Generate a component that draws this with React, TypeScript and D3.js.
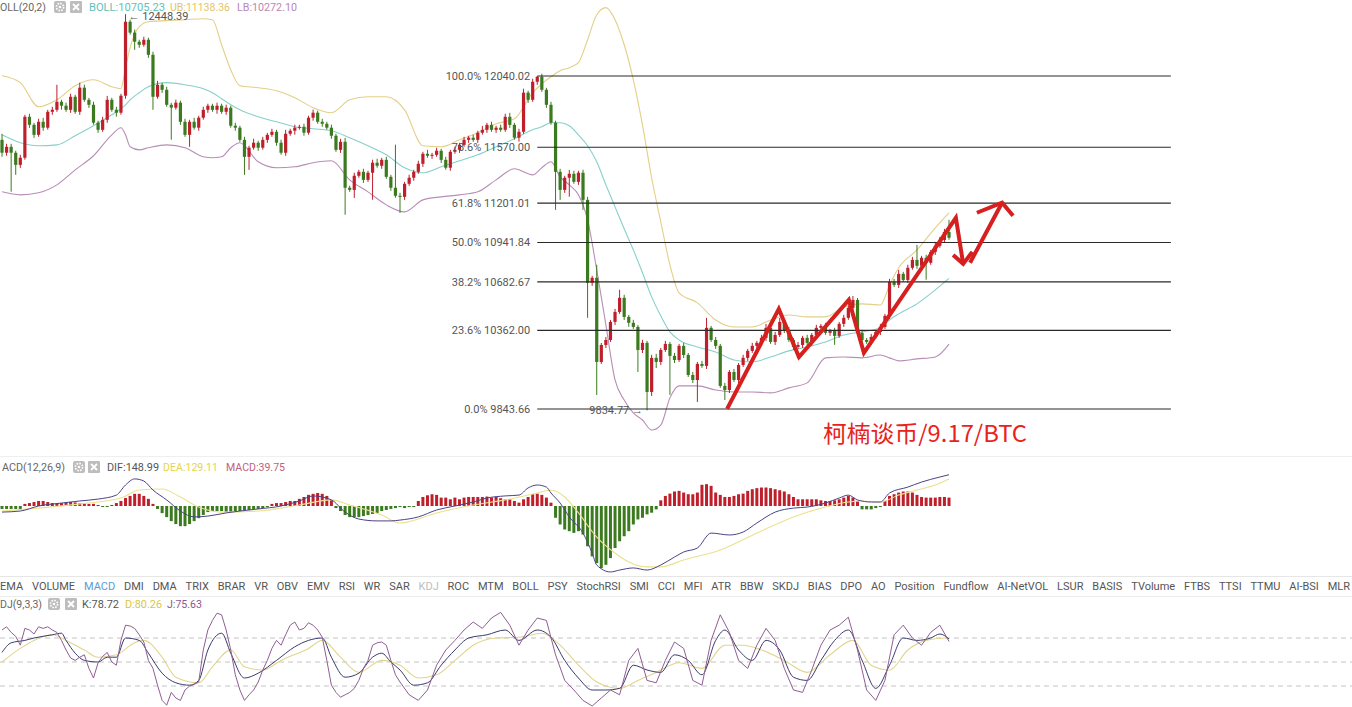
import React, { useMemo } from "react";
import * as d3 from "d3";

// ---------------- DATA ----------------
const firstOpen = 11619;
const closes = [
  11534, 11573, 11534, 11454, 11501, 11771, 11718, 11652, 11738, 11699,
  11804, 11817, 11870, 11844, 11817, 11903, 11804, 11963, 11883, 11850,
  11732, 11685, 11751, 11883, 11817, 11798, 11910, 12398, 12326, 12266,
  12246, 12279, 12180, 11903, 11982, 11949, 11850, 11831, 11864, 11738,
  11652, 11738, 11699, 11765, 11817, 11844, 11817, 11844, 11804, 11831,
  11712, 11699, 11619, 11507, 11567, 11600, 11567, 11619, 11652, 11672,
  11600, 11534, 11659, 11679, 11699, 11705, 11666, 11765, 11798, 11738,
  11725, 11699, 11646, 11553, 11606, 11303, 11289, 11382, 11408, 11355,
  11402, 11468, 11448, 11487, 11375, 11303, 11250, 11243, 11329, 11369,
  11408, 11461, 11527, 11514, 11520, 11547, 11487, 11435, 11540, 11553,
  11586, 11619, 11633, 11619, 11666, 11685, 11718, 11685, 11699, 11685,
  11771, 11718, 11633, 11672, 11930, 11883, 12002, 12035, 11949, 11850,
  11732, 11408, 11289, 11369, 11395, 11342, 11402, 11223, 10676, 10709,
  10154, 10266, 10299, 10418, 10484, 10577, 10451, 10412, 10385, 10233,
  10280, 9956, 10181, 10154, 10233, 10273, 10194, 10167, 10260, 10200,
  10068, 10035, 10141, 10128, 10379, 10299, 10260, 9996, 9969, 10088,
  10035, 10134, 10181, 10227, 10260, 10280, 10313, 10379, 10286, 10332,
  10418, 10365, 10299, 10253, 10266, 10313, 10280, 10332, 10379, 10392,
  10346, 10359, 10326, 10405, 10445, 10511, 10563, 10346, 10299, 10286,
  10319, 10352, 10385, 10458, 10682, 10662, 10735, 10695, 10775, 10827,
  10788, 10841, 10808, 10880, 10920, 10959, 11012, 10973,
];
const wickHi = [
  40, 20, 20, 13, 20, 13, 20, 13, 20, 26,
  13, 20, 112, 13, 20, 20, 13, 33, 20, 13,
  20, 13, 20, 26, 13, 20, 13, 50, 13, 20,
  13, 20, 13, 20, 26, 13, 20, 13, 20, 13,
  20, 13, 26, 13, 20, 13, 13, 20, 13, 20,
  13, 20, 13, 20, 13, 26, 13, 20, 13, 20,
  13, 20, 26, 13, 20, 13, 20, 13, 20, 13,
  20, 13, 20, 13, 20, 26, 13, 20, 13, 20,
  13, 20, 26, 13, 20, 13, 284, 20, 13, 20,
  13, 20, 13, 26, 13, 20, 13, 20, 13, 20,
  13, 20, 13, 20, 13, 26, 13, 20, 13, 20,
  20, 26, 13, 20, 26, 13, 20, 5, 20, 13,
  20, 13, 20, 13, 26, 20, 13, 20, 20, 13,
  86, 13, 20, 13, 20, 53, 20, 13, 20, 13,
  20, 13, 20, 26, 13, 20, 13, 20, 13, 20,
  13, 20, 13, 20, 66, 13, 20, 13, 20, 13,
  20, 13, 20, 13, 20, 13, 20, 26, 13, 20,
  26, 13, 20, 13, 20, 13, 20, 13, 20, 13,
  20, 13, 20, 13, 20, 13, 26, 13, 20, 13,
  20, 13, 20, 13, 20, 20, 26, 13, 20, 20,
  99, 13, 20, 13, 26, 20, 20, 79,
];
const wickLo = [
  26, 20, 257, 66, 20, 13, 20, 20, 13, 20,
  13, 20, 13, 26, 13, 20, 13, 20, 13, 20,
  13, 20, 13, 20, 13, 26, 13, 20, 13, 53,
  20, 13, 20, 86, 13, 20, 13, 211, 13, 20,
  13, 79, 13, 20, 13, 20, 13, 26, 13, 20,
  13, 20, 13, 119, 86, 13, 20, 13, 20, 13,
  20, 13, 20, 13, 26, 13, 20, 13, 20, 13,
  20, 13, 20, 13, 20, 178, 13, 53, 13, 20,
  13, 178, 13, 20, 13, 20, 13, 106, 20, 13,
  20, 13, 20, 13, 20, 13, 20, 13, 20, 13,
  20, 13, 20, 13, 20, 13, 20, 13, 20, 13,
  13, 20, 13, 26, 13, 20, 13, 20, 13, 20,
  13, 251, 66, 20, 125, 13, 20, 66, 231, 20,
  218, 13, 20, 13, 20, 13, 20, 26, 13, 145,
  20, 121, 26, 40, 20, 13, 257, 20, 13, 20,
  13, 20, 145, 13, 20, 13, 20, 13, 66, 20,
  13, 20, 13, 20, 13, 20, 13, 20, 13, 20,
  13, 20, 13, 20, 13, 20, 13, 20, 13, 20,
  13, 20, 59, 13, 20, 13, 20, 13, 20, 13,
  20, 13, 20, 13, 20, 13, 20, 13, 20, 13,
  20, 13, 112, 13, 20, 13, 20, 13,
];

const bandIdx = [0, 4, 8, 12, 16, 20, 24, 26, 27, 28, 30, 32, 36, 40, 44, 46, 48, 50, 52, 56, 60, 64, 68, 72, 76, 80, 84, 88, 92, 96, 100, 104, 108, 112, 116, 118, 120, 122, 124, 126, 128, 130, 132, 134, 136, 138, 140, 142, 144, 146, 148, 152, 156, 160, 164, 168, 172, 176, 180, 184, 188, 192, 194, 196, 200, 204, 207];
const ubVals = [12042, 11996, 11837, 11883, 11976, 12015, 11969, 11956, 12095, 12227, 12365, 12398, 12405, 12411, 12418, 12411, 12246, 12081, 11976, 11963, 11943, 11897, 11831, 11798, 11883, 11903, 11903, 11817, 11580, 11573, 11619, 11666, 11725, 11758, 11930, 11989, 12035, 12075, 12095, 12128, 12279, 12444, 12491, 12411, 12246, 12015, 11718, 11369, 11078, 10794, 10610, 10544, 10431, 10385, 10385, 10431, 10464, 10451, 10451, 10517, 10537, 10530, 10662, 10775, 10893, 11039, 11138];
const midVals = [11652, 11600, 11580, 11586, 11646, 11712, 11784, 11824, 11850, 11883, 11930, 11969, 11996, 11982, 11956, 11930, 11890, 11850, 11817, 11771, 11738, 11705, 11692, 11679, 11633, 11580, 11520, 11435, 11402, 11441, 11481, 11520, 11573, 11626, 11685, 11705, 11732, 11732, 11712, 11652, 11580, 11474, 11322, 11177, 11032, 10893, 10742, 10583, 10458, 10352, 10299, 10253, 10220, 10167, 10154, 10187, 10227, 10253, 10286, 10332, 10352, 10379, 10431, 10471, 10537, 10629, 10705];
const lbVals = [11276, 11256, 11270, 11322, 11421, 11514, 11652, 11699, 11652, 11573, 11553, 11567, 11586, 11567, 11507, 11501, 11507, 11567, 11600, 11474, 11435, 11441, 11468, 11481, 11355, 11276, 11190, 11144, 11223, 11243, 11256, 11276, 11355, 11428, 11388, 11435, 11474, 11375, 11322, 11256, 11091, 10761, 10398, 10035, 9903, 9818, 9771, 9705, 9738, 9917, 9996, 9996, 9969, 9956, 9956, 9950, 9983, 10016, 10181, 10187, 10181, 10200, 10181, 10161, 10174, 10187, 10272];

const fibLabels = ["100.0%", "78.6%", "61.8%", "50.0%", "38.2%", "23.6%", "0.0%"];
const fibValues = [12040.02, 11570.0, 11201.01, 10941.84, 10682.67, 10362.0, 9843.66];
const fibSpanIdx = [117, 255.5];

const macdHist = [
  -14, -14, -14, -14, -14,
  10, 14, 19, 24, 24, 19, 14, 14,
  14, 17, 19, 17, 14,
  14, 10, 10, 5, -5, -5, 5,
  14, 24, 38, 48, 58, 58, 48, 34,
  10,
  -14, -34, -53, -72, -86, -96, -96, -86, -72, -58, -43, -29, -24,
  -24, -24, -29, -29, -24, -24, -19, -19, -14, -14, -10, -5,
  10, 14, 14, 19, 24, 24,
  34, 43, 53, 58, 62, 58, 48, 29,
  -10, -24, -43, -53, -53, -53, -48, -43, -38, -34, -24, -19, -14, -10,
  -5, -10, -5, -5,
  24, 43, 51, 56, 53, 40, 40, 32, 40, 32, 40, 43, 43, 43, 43, 45, 40, 43, 37, 32, 32, 24, 16, 32, 43, 56, 59, 53, 40, 16,
  -56, -88, -112, -120, -128, -120, -136, -192, -240, -272, -296, -280, -248, -200, -168, -144, -120, -88, -64, -56, -40, -32, -16,
  27, 48, 59, 69, 72, 64, 56, 56, 64, 101, 104, 96, 64, 53, 43, 43, 48, 56, 59, 72, 80, 85, 88, 88, 85, 80, 75, 69, 56, 43, 32, 32, 32, 32, 32, 27, 24, 24, 27, 32, 40, 48, 40, 24,
  -16, -16, -16, -10, -5,
  24, 48, 56, 64, 69, 69, 64, 53, 43, 40, 40, 40, 43, 43, 40,
];
const difIdx = [0, 4, 8, 13, 17, 21, 25, 27, 29, 31, 33, 36, 39, 42, 45, 49, 52, 56, 61, 65, 68, 72, 75, 78, 82, 85, 87, 91, 95, 99, 103, 106, 110, 113, 115, 117, 119, 120, 122, 124, 127, 129, 130, 133, 135, 138, 141, 144, 147, 149, 152, 155, 159, 162, 165, 169, 173, 176, 180, 183, 185, 187, 190, 192, 194, 198, 201, 205, 207];
const difVals = [-29, -24, 0, 14, 24, 33, 52, 100, 129, 119, 76, 29, -24, -52, -48, -33, -24, -14, 0, 24, 48, 29, -29, -62, -71, -71, -67, -52, -19, 0, 19, 38, 48, 52, 86, 100, 90, 62, 14, -52, -129, -224, -281, -314, -305, -295, -305, -281, -243, -219, -200, -129, -138, -124, -81, -29, -10, -5, 14, 38, 52, 29, 19, 19, 62, 90, 114, 138, 148.99];
const deaIdx = [0, 8, 17, 26, 30, 35, 39, 43, 48, 56, 65, 72, 76, 83, 87, 95, 103, 110, 117, 120, 123, 126, 130, 134, 137, 141, 144, 149, 157, 165, 173, 180, 185, 188, 192, 196, 200, 204, 207];
const deaVals = [-24, -10, 10, 38, 76, 81, 43, -5, -29, -24, 5, 29, 5, -43, -81, -33, 5, 29, 62, 76, 43, -33, -148, -224, -267, -290, -290, -257, -210, -129, -52, -5, 19, 24, 19, 52, 76, 100, 129.11];

const jIdx = d3.range(0, 88).concat(d3.range(89, 208, 2));
const jVals = [
  90, 94, 87, 82, 71, 92, 90, 85, 94, 92,
  94, 90, 87, 77, 65, 55, 52, 56, 59, 42,
  30, 49, 57, 62, 50, 46, 77, 96, 95, 92,
  84, 75, 52, 42, 21, 2, -4, 12, 5, 2,
  15, 20, 22, 25, 65, 90, 102, 111, 109, 90,
  65, 34, 15, 2, 9, 15, 25, 40, 52, 67,
  77, 71, 84, 96, 100, 90, 92, 99, 96, 90,
  81, 52, 21, 12, 6, 9, 12, 17, 27, 42,
  52, 71, 74, 75, 71, 52, 34, 25,
  9, 2, 15, 46, 65, 77, 90, 100, 92, 105,
  112, 96, 71, 90, 105, 102, 59, 27, 15, 2,
  -5, 5, 15, 9, 52, 67, 27, 24, 52, 75,
  67, 27, 21, 77, 109, 87, 52, 42, 71, 92,
  77, 42, 15, 12, 40, 71, 90, 96, 106, 65,
  15, 2, 27, 84, 96, 80, 71, 87, 96, 75.63,
];
const kIdx = [0, 2, 5, 7, 11, 13, 14, 16, 18, 21, 23, 25, 27, 30, 32, 35, 38, 41, 43, 45, 48, 50, 53, 56, 60, 64, 67, 70, 72, 75, 78, 81, 83, 85, 87, 90, 93, 96, 99, 102, 106, 110, 113, 117, 120, 123, 126, 129, 132, 135, 138, 141, 144, 147, 150, 153, 156, 158, 161, 164, 167, 170, 173, 176, 179, 182, 185, 188, 191, 194, 197, 200, 203, 205, 207];
const kVals = [62, 74, 77, 80, 84, 86, 77, 61, 52, 50, 56, 56, 80, 77, 61, 36, 24, 21, 27, 65, 86, 61, 30, 36, 52, 69, 77, 80, 56, 31, 36, 56, 61, 50, 40, 21, 24, 46, 65, 80, 84, 90, 77, 90, 81, 52, 30, 15, 15, 17, 46, 40, 37, 59, 52, 34, 77, 90, 65, 52, 77, 65, 31, 27, 52, 77, 90, 52, 17, 46, 80, 77, 80, 85, 78.72];
const dIdx = [0, 4, 7, 11, 14, 18, 21, 25, 29, 31, 35, 38, 43, 46, 50, 53, 57, 61, 67, 70, 74, 78, 83, 87, 91, 95, 99, 103, 108, 113, 118, 122, 126, 130, 135, 139, 143, 148, 153, 158, 162, 166, 171, 176, 181, 186, 190, 194, 198, 202, 207];
const dVals = [50, 67, 77, 84, 77, 65, 56, 59, 74, 77, 56, 31, 24, 44, 65, 44, 40, 52, 67, 77, 56, 37, 52, 46, 30, 34, 52, 71, 80, 81, 86, 71, 46, 25, 17, 27, 37, 49, 42, 71, 71, 65, 52, 37, 59, 77, 46, 40, 65, 77, 80.26];

const tabLabels = ["EMA", "VOLUME", "MACD", "DMI", "DMA", "TRIX", "BRAR", "VR", "OBV", "EMV", "RSI", "WR", "SAR", "KDJ", "ROC", "MTM", "BOLL", "PSY", "StochRSI", "SMI", "CCI", "MFI", "ATR", "BBW", "SKDJ", "BIAS", "DPO", "AO", "Position", "Fundflow", "AI-NetVOL", "LSUR", "BASIS", "TVolume", "FTBS", "TTSI", "TTMU", "AI-BSI", "MLR"];

// hand-drawn annotation (candle index, price)
const zigIdx = [158.5, 169.8, 174.2, 185.1, 188.4, 208.5, 210.1];
const zigVals = [9844, 10504, 10187, 10563, 10214, 11105, 10801];
const head1Idx = [207.9, 210.1, 212.1];
const head1Vals = [10860, 10801, 10880];
const arrow2Idx = [211.6, 218.6];
const arrow2Vals = [10808, 11204];
const head2Idx = [213.1, 218.6, 221.0];
const head2Vals = [11138, 11204, 11118];

// ---------------- CHART ----------------
const FONT = "Roboto, 'Noto Sans', Arial, sans-serif";
const UP = "#bf1f2b";
const DOWN = "#3b7a1e";

function Icons({ x, y, gap = 16 }: { x: number; y: number; gap?: number }) {
  return (
    <g>
      <rect x={x} y={y} width={12} height={12} rx={2} fill="#bdbdbd" />
      <circle cx={x + 6} cy={y + 6} r={3.6} fill="none" stroke="#fff" strokeWidth={1.6} strokeDasharray="1.6 1.2" />
      <circle cx={x + 6} cy={y + 6} r={1.3} fill="#fff" />
      <rect x={x + gap} y={y} width={12} height={12} rx={1} fill="#bdbdbd" />
      <path d={`M${x + gap + 3},${y + 3}L${x + gap + 9},${y + 9}M${x + gap + 9},${y + 3}L${x + gap + 3},${y + 9}`} stroke="#fff" strokeWidth={1.8} />
    </g>
  );
}

function Lbl({ x, y, w, fill, children }: { x: number; y: number; w: number; fill: string; children: any }) {
  return (
    <text x={x} y={y} fontSize={11} fill={fill} textLength={w} lengthAdjust="spacingAndGlyphs">
      {children}
    </text>
  );
}

export default function App() {
  const x = d3.scaleLinear().domain([0, 207]).range([2, 949]);
  const yMain = d3.scaleLinear().domain([9843.66, 12040.02]).range([409, 76]);
  const yMacd = d3.scaleLinear().domain([0, 100]).range([506, 485]);
  const yKdj = d3.scaleLinear().domain([20, 80]).range([686, 638]);

  const candles = closes.map((c, i) => {
    const o = i === 0 ? firstOpen : closes[i - 1];
    return { i, o, c, h: Math.max(o, c) + wickHi[i], l: Math.min(o, c) - wickLo[i] };
  });

  const mkLine = (idx: number[], vals: number[], ys: any, curve: any) =>
    d3.line<number>().x((_, k) => x(idx[k])).y((v) => ys(v)).curve(curve)(vals) || "";

  const tabPos = useMemo(() => {
    const ctx = document.createElement("canvas").getContext("2d")!;
    ctx.font = `11px Roboto`;
    const widths = tabLabels.map((t) => ctx.measureText(t).width);
    const total = widths.reduce((a, b) => a + b, 0);
    const gap = (1350 - total) / (tabLabels.length - 1);
    let cx = 0;
    return widths.map((w) => {
      const p = cx;
      cx += w + gap;
      return p;
    });
  }, []);

  const fibX0 = x(fibSpanIdx[0]);
  const fibX1 = x(fibSpanIdx[1]);

  return (
    <svg width={1352} height={707} style={{ position: "absolute", left: 0, top: 0, background: "#fff", fontFamily: FONT }}>
      <rect x={0} y={0} width={1352} height={707} fill="#fff" />
      {/* separators */}
      <line x1={0} x2={1352} y1={456.5} y2={456.5} stroke="#efefef" />
      <line x1={0} x2={1352} y1={576.5} y2={576.5} stroke="#e6e6e6" />
      <line x1={0} x2={1352} y1={596.5} y2={596.5} stroke="#ececec" />

      {/* ---- main panel ---- */}
      <path d={mkLine(bandIdx, ubVals, yMain, d3.curveMonotoneX)} fill="none" stroke="#e3cf86" strokeWidth={1.1} />
      <path d={mkLine(bandIdx, midVals, yMain, d3.curveMonotoneX)} fill="none" stroke="#86d0cb" strokeWidth={1.1} />
      <path d={mkLine(bandIdx, lbVals, yMain, d3.curveMonotoneX)} fill="none" stroke="#b88db6" strokeWidth={1.1} />

      {candles.map((d) => {
        const col = d.c >= d.o ? UP : DOWN;
        const top = yMain(Math.max(d.o, d.c));
        const bot = yMain(Math.min(d.o, d.c));
        const cx = x(d.i);
        return (
          <g key={d.i}>
            <line x1={cx} x2={cx} y1={yMain(d.h)} y2={yMain(d.l)} stroke={col} strokeWidth={1} />
            <rect x={cx - 1.6} y={top} width={3.2} height={Math.max(1, bot - top)} fill={col} />
          </g>
        );
      })}

      {fibValues.map((v, k) => (
        <g key={k}>
          <line x1={fibX0} x2={fibX1} y1={yMain(v)} y2={yMain(v)} stroke="#2a2a2a" strokeWidth={1.2} />
          <text x={fibX0 - 7} y={yMain(v)} dy="0.35em" textAnchor="end" fontSize={11} fill="#555">
            {fibLabels[k]} {v.toFixed(2)}
          </text>
        </g>
      ))}

      <text x={x(27) + 3} y={yMain(12448.39) + 2} dy="0.35em" fontSize={11} fill="#555">← 12448.39</text>
      <text x={x(141) - 4} y={yMain(9834.77)} dy="0.35em" textAnchor="end" fontSize={11} fill="#555">9834.77 →</text>

      {/* annotation */}
      <g fill="none" stroke="#d61f1f" strokeWidth={4} strokeLinejoin="miter" strokeLinecap="butt">
        <path d={mkLine(zigIdx, zigVals, yMain, d3.curveLinear)} />
        <path d={mkLine(head1Idx, head1Vals, yMain, d3.curveLinear)} />
        <path d={mkLine(arrow2Idx, arrow2Vals, yMain, d3.curveLinear)} />
        <path d={mkLine(head2Idx, head2Vals, yMain, d3.curveLinear)} />
      </g>
      <text x={823} y={442} fontSize={23} fill="#e8231b" textLength={204} lengthAdjust="spacingAndGlyphs" style={{ fontFamily: "'Noto Sans CJK SC', 'Noto Sans', sans-serif" }}>
        柯楠谈币/9.17/BTC
      </text>

      {/* top legend */}
      <Lbl x={0} y={11} w={46} fill="#666">OLL(20,2)</Lbl>
      <Icons x={54} y={1} />
      <Lbl x={89} y={11} w={76} fill="#5dc2bc">BOLL:10705.23</Lbl>
      <Lbl x={170} y={11} w={60} fill="#e4c46a">UB:11138.36</Lbl>
      <Lbl x={237} y={11} w={60} fill="#b988b4">LB:10272.10</Lbl>

      {/* ---- MACD panel ---- */}
      <Lbl x={2} y={471} w={63} fill="#666">ACD(12,26,9)</Lbl>
      <Icons x={73} y={461} gap={15} />
      <Lbl x={107} y={471} w={52} fill="#555">DIF:148.99</Lbl>
      <Lbl x={163} y={471} w={55} fill="#e6d44c">DEA:129.11</Lbl>
      <Lbl x={226} y={471} w={59} fill="#c0627c">MACD:39.75</Lbl>

      {macdHist.map((v, i) => {
        const y0 = yMacd(0);
        const y1 = yMacd(v);
        return (
          <rect key={i} x={x(i) - 1.5} y={Math.min(y0, y1)} width={3} height={Math.max(1, Math.abs(y1 - y0))} fill={v >= 0 ? UP : DOWN} />
        );
      })}
      <path d={mkLine(deaIdx, deaVals, yMacd, d3.curveMonotoneX)} fill="none" stroke="#ece08e" strokeWidth={1.1} />
      <path d={mkLine(difIdx, difVals, yMacd, d3.curveMonotoneX)} fill="none" stroke="#4b4388" strokeWidth={1} />

      {/* ---- tab bar ---- */}
      {tabLabels.map((t, k) => (
        <text key={t} x={tabPos[k]} y={590} fontSize={11} fill={t === "MACD" ? "#5a9bd8" : t === "KDJ" ? "#bdbdbd" : "#555"}>
          {t}
        </text>
      ))}

      {/* ---- KDJ panel ---- */}
      <Lbl x={0} y={608} w={42} fill="#666">DJ(9,3,3)</Lbl>
      <Icons x={48} y={598} gap={17} />
      <Lbl x={82} y={608} w={37} fill="#555">K:78.72</Lbl>
      <Lbl x={125} y={608} w={37} fill="#dcc640">D:80.26</Lbl>
      <Lbl x={167} y={608} w={35} fill="#8d5690">J:75.63</Lbl>

      {[80, 50, 20].map((v) => (
        <line key={v} x1={0} x2={1352} y1={yKdj(v)} y2={yKdj(v)} stroke="#c4c4c4" strokeDasharray="5 4" strokeWidth={1} />
      ))}
      <path d={mkLine(dIdx, dVals, yKdj, d3.curveMonotoneX)} fill="none" stroke="#e2d58e" strokeWidth={1.1} />
      <path d={mkLine(kIdx, kVals, yKdj, d3.curveMonotoneX)} fill="none" stroke="#3b3a6e" strokeWidth={1} />
      <path d={mkLine(jIdx, jVals, yKdj, d3.curveLinear)} fill="none" stroke="#8f5e92" strokeWidth={1} />
    </svg>
  );
}
